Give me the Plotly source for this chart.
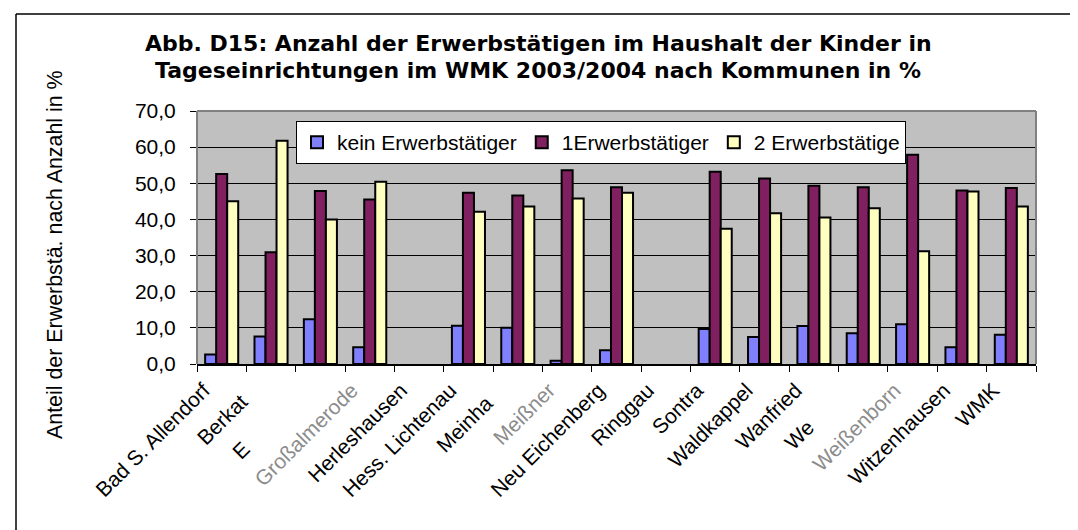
import plotly.graph_objects as go

categories = ["Bad S. Allendorf", "Berkatal", "Eschwege", "Großalmerode", "Herleshausen",
              "Hess. Lichtenau", "Meinhard", "Meißner", "Neu Eichenberg", "Ringgau",
              "Sontra", "Waldkappel", "Wanfried", "Wehretal", "Weißenborn",
              "Witzenhausen", "WMK"]
# label as seen in the source: some names partly covered, some greyed out
HID = "<span style='color:white'>{}</span>"
GRY = "<span style='color:#8c8c8c'>{}</span>"
tick_labels = ["Bad S. Allendorf", "Berkat" + HID.format("al"), "E" + HID.format("schwege"),
               GRY.format("Großalmerode"), "Herleshausen",
               "Hess. Lichtenau", "Meinha" + HID.format("rd"),
               GRY.format("Meißner"), "Neu Eichenberg", "Ringgau",
               "Sontra", "Waldkappel", "Wanfried", "We" + HID.format("hretal"),
               GRY.format("Weißenborn"), "Witzenhausen", "WMK"]

series_names = ["kein Erwerbstätiger", "1Erwerbstätiger", "2 Erwerbstätige"]
kein = [2.6, 7.6, 12.4, 4.6, None, 10.6, 10.0, 0.9, 3.8, None, 9.7, 7.5, 10.5, 8.5, 11.0, 4.6, 8.1]
eins = [52.6, 30.9, 47.9, 45.5, None, 47.4, 46.6, 53.6, 48.9, None, 53.2, 51.3, 49.3, 48.9, 57.9, 48.0, 48.7]
zwei = [45.0, 61.8, 40.0, 50.4, None, 42.1, 43.6, 45.8, 47.4, None, 37.4, 41.7, 40.5, 43.1, 31.2, 47.7, 43.6]
colors = ["#8080FF", "#802060", "#FFFFC0"]

title_lines = ["Abb. D15: Anzahl der Erwerbstätigen im Haushalt der Kinder in",
               "Tageseinrichtungen im WMK 2003/2004 nach Kommunen in %"]
y_title = "Anteil der Erwerbstä. nach Anzahl in %"

W, H = 1078, 530
L, R, T, B = 189, 1028, 103, 356
FONT = "Liberation Sans, Arial, sans-serif"
TFONT = "DejaVu Sans, Liberation Sans, Arial, sans-serif"


def px(x):
    return (x - L) / (R - L)


def py(y):
    return (B - y) / (B - T)


fig = go.Figure()
for name, vals, col in zip(series_names, [kein, eins, zwei], colors):
    fig.add_trace(go.Bar(x=categories, y=vals, name=name,
                         marker=dict(color=col, line=dict(color="black", width=2))))

fig.update_layout(
    width=W, height=H, autosize=False,
    margin=dict(l=L, r=W - R, t=T, b=H - B, autoexpand=False),
    paper_bgcolor="white", plot_bgcolor="#C0C0C0",
    barmode="group", bargap=0.33, bargroupgap=0,
    separators=",.",
    font=dict(family=FONT, size=21, color="black"),
    legend=dict(orientation="h", x=px(288), y=py(113), xanchor="left", yanchor="top",
                bgcolor="white", bordercolor="black", borderwidth=1,
                font=dict(family=FONT, size=21, color="black")),
    showlegend=True,
)

fig.update_xaxes(type="category", tickmode="array", tickvals=categories, ticktext=tick_labels,
                 tickangle=-45, tickson="boundaries", ticks="outside", ticklen=6,
                 tickcolor="black", tickwidth=1, showline=True, linecolor="black",
                 linewidth=1.5, showgrid=False, ticklabelshift=-18, ticklabelstandoff=4,
                 tickfont=dict(family=FONT, size=21, color="black"))
fig.update_yaxes(range=[0, 70], dtick=10, tickformat=".1f", ticks="outside", ticklen=6,
                 tickcolor="black", tickwidth=1, showgrid=True, gridcolor="black",
                 gridwidth=1, zeroline=False, showline=False, ticklabelstandoff=10,
                 tickfont=dict(family=FONT, size=21, color="black"))

# chart title (two lines)
for line, yc in zip(title_lines, [35, 62]):
    fig.add_annotation(text="<b>" + line + "</b>", xref="paper", yref="paper",
                       x=px(530), y=py(yc), xanchor="center", yanchor="middle",
                       showarrow=False, font=dict(family=TFONT, size=22, color="black"))

# y-axis title
fig.add_annotation(text=y_title, textangle=-90,
                   xref="paper", yref="paper", x=px(47), y=py(247),
                   xanchor="center", yanchor="middle",
                   showarrow=False, font=dict(family=FONT, size=21.4, color="black"))

# plot area gray frame (left, top, right)
for x0, y0, x1, y1 in [(0, 0, 0, 1), (0, 1, 1, 1), (1, 0, 1, 1)]:
    fig.add_shape(type="line", xref="paper", yref="paper", x0=x0, y0=y0, x1=x1, y1=y1,
                  line=dict(color="#808080", width=2), layer="above")

# outer chart frame (top and left edges)
fig.add_shape(type="line", xref="paper", yref="paper", x0=px(8), y0=py(6), x1=px(1073), y1=py(6),
              line=dict(color="black", width=1.5))
fig.add_shape(type="line", xref="paper", yref="paper", x0=px(8), y0=py(6), x1=px(8), y1=py(532),
              line=dict(color="black", width=1.5))

fig.write_html("out.html")
